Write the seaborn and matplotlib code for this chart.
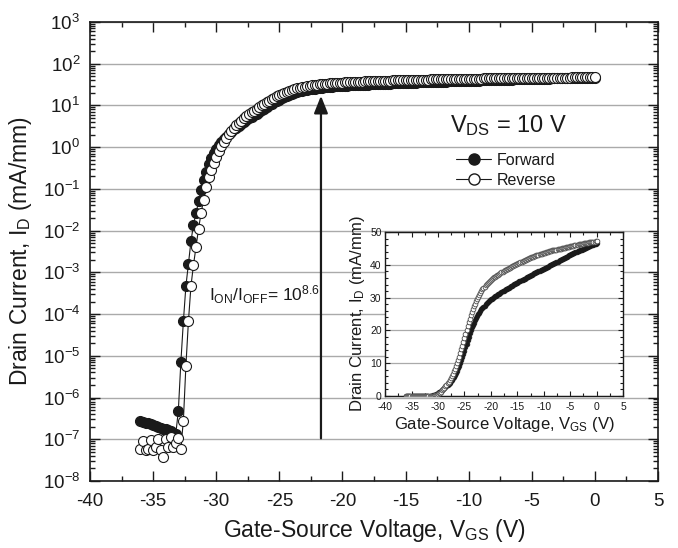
import numpy as np
import pandas as pd
import matplotlib
matplotlib.use("Agg")
import matplotlib.pyplot as plt
import seaborn as sns
from matplotlib.lines import Line2D
from matplotlib.ticker import MultipleLocator, LogLocator, NullFormatter, FixedLocator

# Gate-source voltage sweep (V)
v_gs = [
    -36.0, -35.8, -35.6, -35.4, -35.2, -35.0, -34.8, -34.6, -34.4, -34.2,
    -34.0, -33.8, -33.6, -33.4, -33.2, -33.0, -32.8, -32.6, -32.4, -32.2,
    -32.0, -31.8, -31.6, -31.4, -31.2, -31.0, -30.8, -30.6, -30.4, -30.2,
    -30.0, -29.8, -29.6, -29.4, -29.2, -29.0, -28.8, -28.6, -28.4, -28.2,
    -28.0, -27.8, -27.6, -27.4, -27.2, -27.0, -26.8, -26.6, -26.4, -26.2,
    -26.0, -25.8, -25.6, -25.4, -25.2, -25.0, -24.8, -24.6, -24.4, -24.2,
    -24.0, -23.8, -23.6, -23.4, -23.2, -23.0, -22.8, -22.6, -22.4, -22.2,
    -22.0, -21.8, -21.6, -21.4, -21.2, -21.0, -20.8, -20.6, -20.4, -20.2,
    -20.0, -19.8, -19.6, -19.4, -19.2, -19.0, -18.8, -18.6, -18.4, -18.2,
    -18.0, -17.8, -17.6, -17.4, -17.2, -17.0, -16.8, -16.6, -16.4, -16.2,
    -16.0, -15.8, -15.6, -15.4, -15.2, -15.0, -14.8, -14.6, -14.4, -14.2,
    -14.0, -13.8, -13.6, -13.4, -13.2, -13.0, -12.8, -12.6, -12.4, -12.2,
    -12.0, -11.8, -11.6, -11.4, -11.2, -11.0, -10.8, -10.6, -10.4, -10.2,
    -10.0, -9.8, -9.6, -9.4, -9.2, -9.0, -8.8, -8.6, -8.4, -8.2,
    -8.0, -7.8, -7.6, -7.4, -7.2, -7.0, -6.8, -6.6, -6.4, -6.2,
    -6.0, -5.8, -5.6, -5.4, -5.2, -5.0, -4.8, -4.6, -4.4, -4.2,
    -4.0, -3.8, -3.6, -3.4, -3.2, -3.0, -2.8, -2.6, -2.4, -2.2,
    -2.0, -1.8, -1.6, -1.4, -1.2, -1.0, -0.8, -0.6, -0.4, -0.2,
    0.0,
]

# Drain current, forward sweep (mA/mm)
i_forward = [
    2.7e-7, 2.6e-7, 2.5e-7, 2.4e-7, 2.3e-7, 2.2e-7, 2.1e-7, 2.0e-7, 1.9e-7, 1.8e-7,
    1.75e-7, 1.65e-7, 1.55e-7, 1.45e-7, 1.35e-7, 4.8e-7, 7.0e-6, 6.7e-5, 4.7e-4, 1.6e-3,
    5.5e-3, 1.4e-2, 2.6e-2, 5.0e-2, 9.5e-2, 0.16, 0.25, 0.40, 0.55, 0.72,
    0.90, 1.1, 1.32, 1.55, 1.8, 2.05, 2.35, 2.65, 2.95, 3.3,
    3.65, 4.05, 4.45, 4.9, 5.35, 5.85, 6.4, 7.0, 7.7, 8.4,
    9.2, 10.0, 10.9, 11.8, 12.8, 13.8, 14.9, 16.0, 17.1, 18.1,
    19.1, 20.0, 20.9, 21.7, 22.4, 23.1, 23.7, 24.3, 24.9, 25.4,
    25.9, 26.4, 26.8, 27.2, 27.6, 28.0, 28.3, 28.6, 28.9, 29.2,
    29.5, 29.7, 29.9, 30.2, 30.4, 30.6, 30.8, 31.0, 31.2, 31.4,
    31.7, 31.9, 32.1, 32.3, 32.5, 32.7, 32.9, 33.1, 33.3, 33.5,
    33.7, 33.9, 34.1, 34.2, 34.4, 34.6, 34.8, 35.0, 35.1, 35.3,
    35.5, 35.7, 35.8, 36.0, 36.2, 36.4, 36.5, 36.7, 36.9, 37.0,
    37.2, 37.4, 37.5, 37.7, 37.9, 38.0, 38.2, 38.4, 38.5, 38.7,
    38.9, 39.0, 39.2, 39.4, 39.5, 39.7, 39.9, 40.0, 40.2, 40.4,
    40.5, 40.7, 40.9, 41.0, 41.2, 41.4, 41.5, 41.7, 41.9, 42.0,
    42.2, 42.4, 42.5, 42.7, 42.9, 43.0, 43.2, 43.3, 43.5, 43.7,
    43.8, 44.0, 44.1, 44.3, 44.4, 44.6, 44.7, 44.9, 45.0, 45.2,
    45.3, 45.4, 45.6, 45.7, 45.8, 46.0, 46.1, 46.2, 46.4, 46.5,
    46.6,
]

# Drain current, reverse sweep (mA/mm)
i_reverse = [
    5.8e-8, 9.0e-8, 5.5e-8, 6.0e-8, 9.5e-8, 5.5e-8, 6.4e-8, 1.0e-7, 5.5e-8, 3.7e-8,
    1.0e-7, 6.4e-8, 1.15e-7, 6.6e-8, 8.0e-8, 1.05e-7, 6.0e-8, 2.8e-7, 5.8e-6, 6.7e-5,
    4.7e-4, 1.5e-3, 4.0e-3, 1.1e-2, 2.6e-2, 5.5e-2, 0.11, 0.19, 0.29, 0.42,
    0.58, 0.80, 1.05, 1.35, 1.7, 2.05, 2.45, 2.9, 3.35, 3.85,
    4.35, 4.9, 5.5, 6.1, 6.8, 7.5, 8.3, 9.1, 10.0, 11.0,
    12.0, 13.1, 14.2, 15.4, 16.6, 17.8, 19.0, 20.2, 21.4, 22.5,
    23.6, 24.6, 25.6, 26.5, 27.4, 28.2, 28.9, 29.6, 30.3, 30.9,
    31.5, 32.0, 32.5, 33.0, 33.4, 33.8, 34.2, 34.5, 34.8, 35.1,
    35.4, 35.7, 35.9, 36.2, 36.4, 36.6, 36.8, 37.0, 37.3, 37.5,
    37.7, 37.9, 38.1, 38.3, 38.5, 38.7, 38.9, 39.1, 39.2, 39.4,
    39.6, 39.8, 39.9, 40.1, 40.3, 40.4, 40.6, 40.7, 40.9, 41.0,
    41.2, 41.3, 41.5, 41.6, 41.7, 41.9, 42.0, 42.1, 42.3, 42.4,
    42.5, 42.6, 42.8, 42.9, 43.0, 43.1, 43.2, 43.3, 43.4, 43.5,
    43.6, 43.7, 43.8, 43.9, 44.0, 44.1, 44.2, 44.3, 44.4, 44.4,
    44.5, 44.6, 44.7, 44.8, 44.9, 44.9, 45.0, 45.1, 45.2, 45.3,
    45.3, 45.4, 45.5, 45.6, 45.6, 45.7, 45.8, 45.9, 45.9, 46.0,
    46.1, 46.1, 46.2, 46.3, 46.3, 46.4, 46.5, 46.5, 46.6, 46.7,
    46.7, 46.8, 46.8, 46.9, 46.9, 47.0, 47.0, 47.1, 47.1, 47.2,
    47.2,
]

series_labels = ["Forward", "Reverse"]
main_xticks = [-40, -35, -30, -25, -20, -15, -10, -5, 0, 5]
inset_yticks = [0, 10, 20, 30, 40, 50]

sns.set_theme(style="ticks")
plt.rcParams.update({
    "font.family": ["Liberation Sans", "DejaVu Sans"],
    "mathtext.fontset": "custom",
    "mathtext.rm": "Liberation Sans",
    "mathtext.it": "Liberation Sans:italic",
    "mathtext.bf": "Liberation Sans:bold",
    "mathtext.default": "regular",
    "axes.unicode_minus": False,
    "axes.edgecolor": "#1a1a1a",
    "xtick.color": "#1a1a1a",
    "ytick.color": "#1a1a1a",
    "text.color": "#1a1a1a",
    "axes.labelcolor": "#1a1a1a",
})

df = pd.DataFrame({"V": v_gs, "fwd": i_forward, "rev": i_reverse})

fig = plt.figure(figsize=(6.78, 5.48), dpi=100)
ax = fig.add_axes([0.1327, 0.1223, 0.8378, 0.8376])

sns.lineplot(data=df, x="V", y="fwd", ax=ax, color="#1a1a1a", lw=0.8,
             marker="o", markersize=7.2, markerfacecolor="#1a1a1a",
             markeredgecolor="#1a1a1a", markeredgewidth=0.8,
             sort=False, estimator=None, zorder=3)
sns.lineplot(data=df, x="V", y="rev", ax=ax, color="#1a1a1a", lw=0.8,
             marker="o", markersize=7.2, markerfacecolor="white",
             markeredgecolor="#1a1a1a", markeredgewidth=0.8,
             sort=False, estimator=None, zorder=4)

ax.set_yscale("log")
ax.set_xlim(-40, 5)
ax.set_ylim(1e-8, 1e3)
ax.xaxis.set_major_locator(FixedLocator(main_xticks))
ax.xaxis.set_minor_locator(MultipleLocator(2.5))
ax.yaxis.set_major_locator(LogLocator(base=10, numticks=20))
ax.yaxis.set_minor_locator(LogLocator(base=10, subs=np.arange(2, 10), numticks=20))
ax.yaxis.set_minor_formatter(NullFormatter())
ax.tick_params(which="both", direction="in", top=True, right=True, width=1.0)
ax.tick_params(which="major", length=7, labelsize=13.5, pad=7)
ax.tick_params(which="minor", length=3.5)
ax.tick_params(axis="x", which="major", pad=9)
ax.yaxis.grid(True, which="major", color="#aaaaaa", lw=1.0)
ax.xaxis.grid(False)
ax.set_axisbelow(True)
for s in ax.spines.values():
    s.set_linewidth(1.2)

ax.set_xlabel(r"Gate-Source Voltage, V$_{\rm GS}$ (V)", fontsize=16.5, labelpad=5)
ax.set_ylabel(r"Drain Current, I$_{\rm D}$ (mA/mm)", fontsize=16.5, labelpad=6)

ax.text(-11.5, 2.3, r"V$_{\rm DS}$ = 10 V", fontsize=17, ha="left", va="baseline")
ax.text(-30.6, 2.1e-4, r"I$_{\rm ON}$/I$_{\rm OFF}$= 10$^{8.6}$", fontsize=12.5,
        ha="left", va="baseline")
ax.annotate("", xy=(-21.7, 17), xytext=(-21.7, 1.05e-7),
            arrowprops=dict(arrowstyle="-|>,head_length=0.7,head_width=0.28",
                            color="#1a1a1a", lw=1.6, mutation_scale=15,
                            shrinkA=0, shrinkB=0), zorder=5)

handles = [
    Line2D([0], [0], color="#1a1a1a", lw=0.8, marker="o", ms=8,
           mfc="#1a1a1a", mec="#1a1a1a"),
    Line2D([0], [0], color="#1a1a1a", lw=0.8, marker="o", ms=8,
           mfc="white", mec="#1a1a1a"),
]
ax.legend(handles, series_labels, loc="upper left", bbox_to_anchor=(0.645, 0.715),
          frameon=False, fontsize=11.5, handlelength=2.2, handletextpad=0.35,
          labelspacing=0.3, borderpad=0, borderaxespad=0)

# Inset (linear scale)
ins = fig.add_axes([0.568, 0.2774, 0.351, 0.299])
sns.lineplot(data=df, x="V", y="fwd", ax=ins, color="#1a1a1a", lw=0.5,
             marker="o", markersize=3.4, markerfacecolor="#1a1a1a",
             markeredgecolor="#1a1a1a", markeredgewidth=0.5,
             sort=False, estimator=None, zorder=3)
sns.lineplot(data=df, x="V", y="rev", ax=ins, color="#555555", lw=0.5,
             marker="o", markersize=3.4, markerfacecolor="white",
             markeredgecolor="#4a4a4a", markeredgewidth=0.6,
             sort=False, estimator=None, zorder=4)
ins.set_xlim(-40, 5)
ins.set_ylim(0, 50)
ins.xaxis.set_major_locator(FixedLocator(main_xticks))
ins.xaxis.set_minor_locator(MultipleLocator(2.5))
ins.yaxis.set_major_locator(FixedLocator(inset_yticks))
ins.yaxis.set_minor_locator(MultipleLocator(2))
ins.tick_params(which="both", direction="in", top=True, right=True, width=0.8)
ins.tick_params(which="major", length=3.5, labelsize=7.5, pad=2.5)
ins.tick_params(axis="x", which="major", pad=4.5)
ins.tick_params(which="minor", length=2)
ins.yaxis.grid(True, which="major", color="#aaaaaa", lw=0.9)
ins.xaxis.grid(False)
ins.set_axisbelow(True)
for s in ins.spines.values():
    s.set_linewidth(1.0)
ins.set_xlabel(r"Gate-Source Voltage, V$_{\rm GS}$ (V)", fontsize=12, labelpad=2)
ins.set_ylabel(r"Drain Current, I$_{\rm D}$ (mA/mm)", fontsize=12, labelpad=2)

fig.savefig("out.png", dpi=100)
